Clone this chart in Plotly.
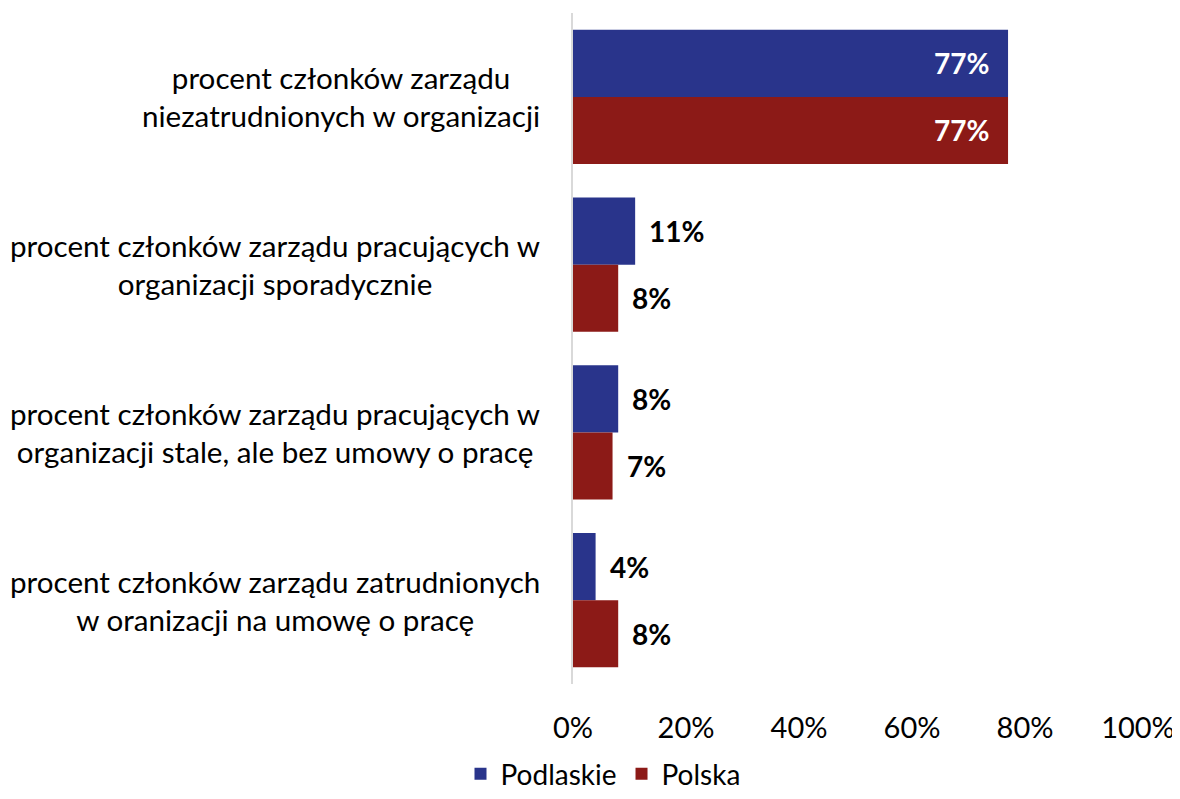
import plotly.graph_objects as go

categories = [
    "procent członków zarządu<br>niezatrudnionych w organizacji",
    "procent członków zarządu pracujących w<br>organizacji sporadycznie",
    "procent członków zarządu pracujących w<br>organizacji stale, ale bez umowy o pracę",
    "procent członków zarządu zatrudnionych<br>w oranizacji na umowę o pracę",
]
cat_ids = ["c1", "c2", "c3", "c4"]
podlaskie = [77, 11, 8, 4]
polska = [77, 8, 7, 8]
series_names = ["Podlaskie", "Polska"]
colors = ["#29348B", "#8C1A17"]
x_ticks = [0, 20, 40, 60, 80, 100]
x_tick_labels = ["0%", "20%", "40%", "60%", "80%", "100%"]

FONT = "Lato"
OFF = 8  # page body margin
W, H = 1180 - OFF, 799 - OFF
L, R, T, B = 573 - OFF, 1138 - OFF, 13 - OFF, 684 - OFF

fig = go.Figure()
for name, vals, col in zip(series_names, [podlaskie, polska], colors):
    fig.add_trace(go.Bar(
        y=cat_ids, x=vals, name=name, orientation="h",
        marker=dict(color=col, line=dict(width=0)),
        hoverinfo="x+name",
    ))

annotations = []
# category labels: block right-aligned, lines centred
for cid, lab in zip(cat_ids, categories):
    annotations.append(dict(
        x=(542 - OFF - L) / (R - L), xref="paper", y=cid, yref="y", text=lab, showarrow=False,
        xanchor="right", align="center", font=dict(family=FONT, size=29.6, color="#000000"),
    ))

# data labels
for si, vals in enumerate([podlaskie, polska]):
    for cid, v in zip(cat_ids, vals):
        inside = v > 50
        annotations.append(dict(
            x=v, xref="x", y=cid, yref="y", text=f"{v}%", showarrow=False,
            xanchor="right" if inside else "left",
            xshift=-17 if inside else 12,
            yshift=(33.5 if si == 0 else -33.5),
            font=dict(family=FONT, size=28, color="#FFFFFF" if inside else "#000000", weight="bold"),
        ))

fig.update_layout(
    width=W, height=H,
    margin=dict(l=L, r=W - R, t=T, b=H - B, autoexpand=False),
    paper_bgcolor="white", plot_bgcolor="white",
    barmode="group", bargap=0.2, bargroupgap=0,
    font=dict(family=FONT, size=28, color="#000000"),
    xaxis=dict(range=[0, 100], tickvals=x_ticks, ticktext=x_tick_labels,
               showgrid=False, zeroline=False, showline=False,
               ticks="outside", ticklen=18, tickcolor="rgba(0,0,0,0)",
               tickfont=dict(family=FONT, size=29, color="#000000"), fixedrange=True),
    yaxis=dict(categoryorder="array", categoryarray=cat_ids, autorange="reversed",
               showticklabels=False, showgrid=False, zeroline=False,
               showline=True, linecolor="#D9D9D9", linewidth=2, ticks="", fixedrange=True),
    legend=dict(orientation="h", x=(603 - OFF - L) / (R - L),
                y=-(H - B) / (B - T),
                xanchor="center", yanchor="bottom", font=dict(family=FONT, size=28),
                traceorder="normal"),
    annotations=annotations,
    showlegend=True,
)
fig.write_html("out.html")
